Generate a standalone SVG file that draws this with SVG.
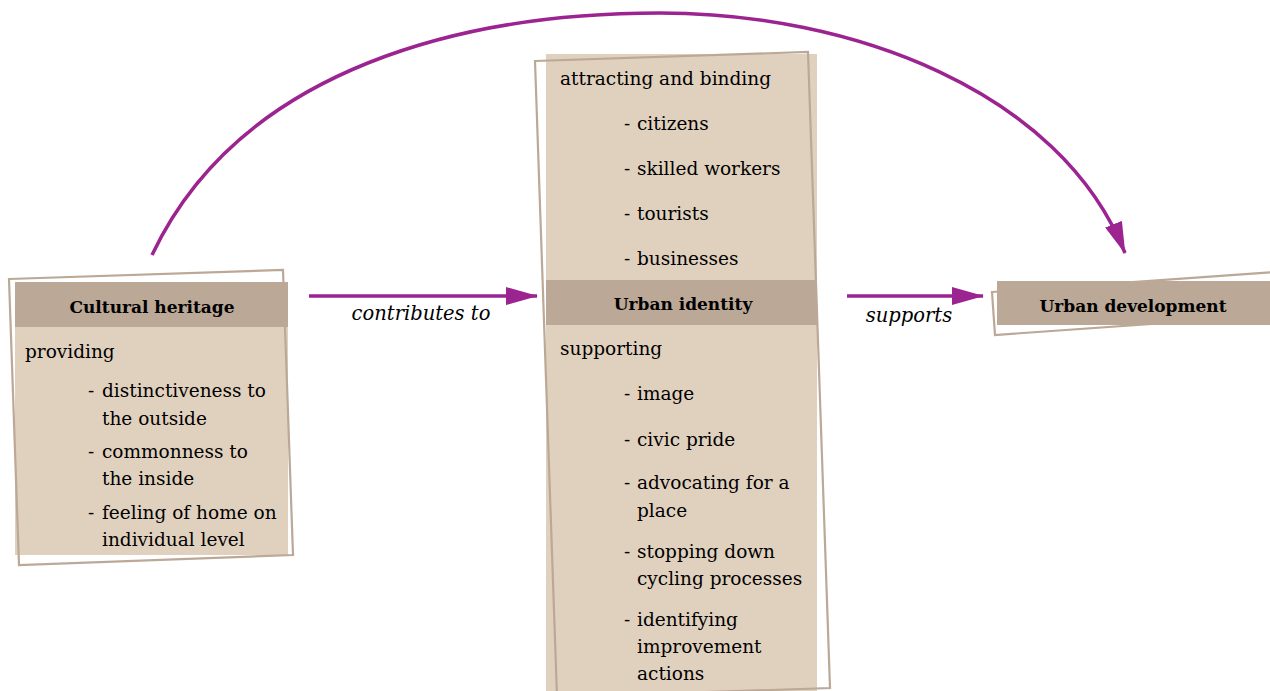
<svg xmlns="http://www.w3.org/2000/svg" width="1270" height="691" viewBox="0 0 1270 691">
<style>
.body{fill:#e0d1be}
.head{fill:#bba896}
.frame{fill:none;stroke:#bba896;stroke-width:2.2}
.t{font-family:"DejaVu Serif","Liberation Serif",serif;font-size:18.5px;fill:#000}
.h{font-family:"DejaVu Serif","Liberation Serif",serif;font-size:17px;font-weight:bold;fill:#000;text-anchor:middle}
.lbl{font-family:"DejaVu Serif","Liberation Serif",serif;font-size:19.5px;font-style:italic;fill:#000;text-anchor:middle}
.conn{fill:none;stroke:#9c2491;stroke-width:3.5}
</style>
<defs>
<marker id="ah" markerUnits="userSpaceOnUse" markerWidth="32" markerHeight="18" viewBox="0 0 32 18" refX="31" refY="9" orient="auto">
<path d="M0,0 L32,9 L0,18 z" fill="#9c2491"/>
</marker>
</defs>
<g id="connectors">
<path class="conn" d="M152,255 C242,65 470,13 660,13 C850,13 1060,90 1125,253" marker-end="url(#ah)"/>
<line class="conn" x1="309" y1="296" x2="537" y2="296" marker-end="url(#ah)"/>
<line class="conn" x1="847" y1="296" x2="983" y2="296" marker-end="url(#ah)"/>
<text class="lbl" x="421" y="320">contributes to</text>
<text class="lbl" x="909" y="322">supports</text>
</g>
<g id="cultural-heritage">
<rect class="body" x="15" y="326" width="273" height="229"/>
<polygon class="frame" points="9,279 283,270 293,555 19,565"/>
<rect class="head" x="15" y="282" width="273" height="45"/>
<text class="h" x="152" y="313">Cultural heritage</text>
<text class="t" x="25" y="358">providing</text>
<text class="t" x="88" y="397">-</text>
<text class="t" x="102" y="397">distinctiveness to</text>
<text class="t" x="102" y="425">the outside</text>
<text class="t" x="88" y="458">-</text>
<text class="t" x="102" y="458">commonness to</text>
<text class="t" x="102" y="485">the inside</text>
<text class="t" x="88" y="519">-</text>
<text class="t" x="102" y="519">feeling of home on</text>
<text class="t" x="102" y="546">individual level</text>
</g>
<g id="urban-identity">
<rect class="body" x="546" y="54" width="271" height="637"/>
<polygon class="frame" points="535,61 808,52 830,688 557,697"/>
<rect class="head" x="546" y="280" width="271" height="45"/>
<text class="t" x="560" y="85">attracting and binding</text>
<text class="t" x="624" y="130">-</text>
<text class="t" x="637" y="130">citizens</text>
<text class="t" x="624" y="175">-</text>
<text class="t" x="637" y="175">skilled workers</text>
<text class="t" x="624" y="220">-</text>
<text class="t" x="637" y="220">tourists</text>
<text class="t" x="624" y="265">-</text>
<text class="t" x="637" y="265">businesses</text>
<text class="h" x="683" y="310">Urban identity</text>
<text class="t" x="560" y="355">supporting</text>
<text class="t" x="624" y="400">-</text>
<text class="t" x="637" y="400">image</text>
<text class="t" x="624" y="446">-</text>
<text class="t" x="637" y="446">civic pride</text>
<text class="t" x="624" y="489">-</text>
<text class="t" x="637" y="489">advocating for a</text>
<text class="t" x="637" y="517">place</text>
<text class="t" x="624" y="558">-</text>
<text class="t" x="637" y="558">stopping down</text>
<text class="t" x="637" y="585">cycling processes</text>
<text class="t" x="624" y="626">-</text>
<text class="t" x="637" y="626">identifying</text>
<text class="t" x="637" y="653">improvement</text>
<text class="t" x="637" y="680">actions</text>
</g>
<g id="urban-development">
<polygon class="frame" points="992,292 1275,272 1278,315 995,335"/>
<rect class="head" x="997" y="281" width="273" height="44"/>
<text class="h" x="1133" y="312">Urban development</text>
</g>
</svg>
